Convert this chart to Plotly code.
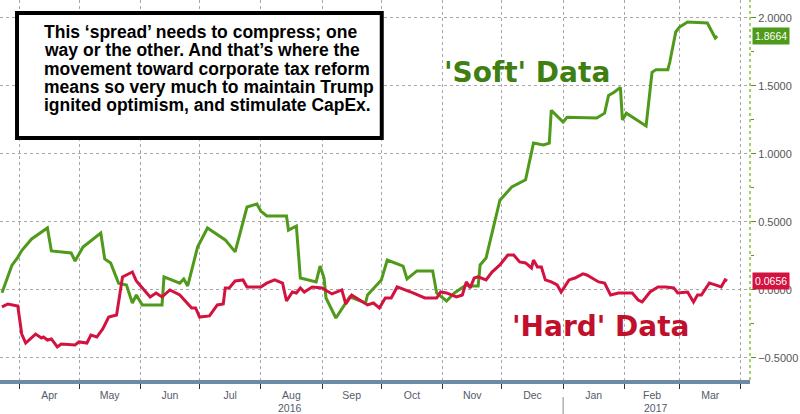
import plotly.graph_objects as go

# 'Soft' data (survey based)
soft_dates = ["2016-03-23", "2016-03-28", "2016-03-31", "2016-04-02", "2016-04-07", "2016-04-15",
              "2016-04-17", "2016-04-27", "2016-04-29", "2016-05-03", "2016-05-12", "2016-05-14",
              "2016-05-17", "2016-05-21", "2016-05-25", "2016-05-28", "2016-05-30", "2016-06-02",
              "2016-06-12", "2016-06-13", "2016-06-21", "2016-06-23", "2016-06-25", "2016-06-30",
              "2016-07-05", "2016-07-14", "2016-07-19", "2016-07-25", "2016-07-30", "2016-08-01",
              "2016-08-04", "2016-08-14", "2016-08-15", "2016-08-19", "2016-08-21", "2016-08-29",
              "2016-08-31", "2016-09-02", "2016-09-03", "2016-09-08", "2016-09-15", "2016-09-23",
              "2016-09-24", "2016-10-01", "2016-10-04", "2016-10-12", "2016-10-14", "2016-10-19",
              "2016-10-27", "2016-10-29", "2016-11-03", "2016-11-07", "2016-11-13", "2016-11-16",
              "2016-11-19", "2016-11-20", "2016-11-23", "2016-11-27", "2016-11-30", "2016-12-06",
              "2016-12-13", "2016-12-17", "2016-12-22", "2016-12-25", "2016-12-26", "2017-01-01",
              "2017-01-03", "2017-01-18", "2017-01-22", "2017-01-24", "2017-01-27", "2017-01-30",
              "2017-01-31", "2017-02-02", "2017-02-12", "2017-02-15", "2017-02-17", "2017-02-23",
              "2017-02-24", "2017-02-27", "2017-03-01", "2017-03-05", "2017-03-15", "2017-03-19",
              "2017-03-20"]
soft_values = [-0.02, 0.18, 0.24, 0.29, 0.375, 0.456,
               0.287, 0.272, 0.213, 0.316, 0.419, 0.228,
               0.199, 0.05, 0.037, -0.096, -0.037, -0.11,
               -0.11, 0.096, 0.05, 0.08, 0.03, 0.316,
               0.456, 0.368, 0.28, 0.61, 0.632, 0.58,
               0.544, 0.544, 0.44, 0.47, 0.088, 0.059,
               0.176, 0.088, -0.059, -0.206, -0.051, -0.096,
               -0.037, 0.074, 0.22, 0.176, 0.081, 0.14,
               0.14, -0.022, -0.081, -0.022, 0.037, 0.03,
               0.03, 0.184, 0.235, 0.478, 0.66, 0.757,
               0.81, 1.08, 1.066, 1.08, 1.32, 1.235,
               1.27, 1.265, 1.30, 1.43, 1.456, 1.49,
               1.25, 1.30, 1.206, 1.60, 1.62, 1.62,
               1.676, 1.897, 1.934, 1.97, 1.963, 1.853,
               1.8664]

# 'Hard' data (actual activity)
hard_dates = ["2016-03-23", "2016-03-26", "2016-03-31", "2016-04-02", "2016-04-04", "2016-04-09",
              "2016-04-12", "2016-04-13", "2016-04-15", "2016-04-17", "2016-04-20", "2016-04-22",
              "2016-04-29", "2016-05-01", "2016-05-05", "2016-05-07", "2016-05-10", "2016-05-13",
              "2016-05-16", "2016-05-20", "2016-05-23", "2016-05-28", "2016-05-30", "2016-06-01",
              "2016-06-06", "2016-06-09", "2016-06-12", "2016-06-16", "2016-06-21", "2016-06-27",
              "2016-06-29", "2016-07-01", "2016-07-06", "2016-07-10", "2016-07-13", "2016-07-14",
              "2016-07-16", "2016-07-19", "2016-07-23", "2016-07-25", "2016-08-01", "2016-08-04",
              "2016-08-08", "2016-08-12", "2016-08-14", "2016-08-17", "2016-08-19", "2016-08-21",
              "2016-08-23", "2016-08-27", "2016-09-01", "2016-09-06", "2016-09-11", "2016-09-13",
              "2016-09-16", "2016-09-24", "2016-09-27", "2016-09-30", "2016-10-03", "2016-10-06",
              "2016-10-09", "2016-10-17", "2016-10-23", "2016-10-29", "2016-10-31", "2016-11-03",
              "2016-11-08", "2016-11-11", "2016-11-13", "2016-11-15", "2016-11-17", "2016-11-19",
              "2016-11-23", "2016-11-26", "2016-11-30", "2016-12-04", "2016-12-07", "2016-12-10",
              "2016-12-13", "2016-12-16", "2016-12-17", "2016-12-19", "2016-12-21", "2016-12-23",
              "2016-12-26", "2016-12-29", "2016-12-31", "2017-01-04", "2017-01-07", "2017-01-11",
              "2017-01-13", "2017-01-19", "2017-01-22", "2017-01-25", "2017-01-29", "2017-02-01",
              "2017-02-05", "2017-02-08", "2017-02-10", "2017-02-14", "2017-02-18", "2017-02-22",
              "2017-02-26", "2017-02-28", "2017-03-05", "2017-03-08", "2017-03-10", "2017-03-12",
              "2017-03-16", "2017-03-19", "2017-03-22", "2017-03-24", "2017-03-25"]
hard_values = [-0.125, -0.103, -0.118, -0.324, -0.39, -0.324,
               -0.353, -0.346, -0.368, -0.36, -0.419, -0.397,
               -0.404, -0.382, -0.39, -0.331, -0.346, -0.287,
               -0.199, -0.184, 0.096, 0.132, 0.066, 0.03,
               -0.051, -0.022, -0.051, 0.0, -0.037, -0.132,
               -0.132, -0.199, -0.191, -0.11, -0.103, 0.015,
               0.015, 0.066, 0.074, 0.022, 0.022, 0.05,
               0.074, 0.05, -0.081, -0.015, -0.022, 0.015,
               -0.015, 0.022, 0.015, -0.029, 0.0, -0.103,
               -0.037, -0.11, -0.096, -0.132, -0.059, -0.059,
               0.022, -0.022, -0.059, -0.059, -0.015, -0.022,
               -0.051, -0.037, 0.059, 0.015, 0.088, 0.096,
               0.074, 0.132, 0.184, 0.257, 0.257, 0.206,
               0.199, 0.162, 0.22, 0.169, 0.169, 0.074,
               0.059, 0.037, -0.015, 0.074, 0.088, 0.118,
               0.11, 0.059, 0.051, -0.037, -0.022, -0.022,
               -0.022, -0.074, -0.088, -0.015, 0.022, 0.022,
               0.015, -0.022, -0.015, -0.088, -0.037, -0.037,
               0.051, 0.037, 0.022, 0.074, 0.0656]

GREEN = "#4f9a1a"
RED = "#d3123f"
AXIS_FONT = "Liberation Sans, Arial, sans-serif"

note_lines = ["This ‘spread’ needs to compress; one",
              "way or the other. And that’s where the",
              "movement toward corporate tax reform",
              "means so very much to maintain Trump",
              "ignited optimism, and stimulate CapEx."]

fig = go.Figure()

fig.add_trace(go.Scatter(x=soft_dates, y=soft_values, mode="lines", name="Soft",
                         line=dict(color=GREEN, width=3)))
fig.add_trace(go.Scatter(x=hard_dates, y=hard_values, mode="lines", name="Hard",
                         line=dict(color=RED, width=3)))

fig.update_layout(
    width=800, height=414,
    margin=dict(l=0, r=50, t=0, b=34),
    paper_bgcolor="white", plot_bgcolor="white",
    showlegend=False,
    xaxis=dict(
        type="date",
        range=["2016-03-22", "2017-04-05 14:00"],
        tick0="2016-04-01", dtick="M1", tickformat="%b",
        ticklabelmode="period", ticklabelstandoff=-3,
        showgrid=True, gridcolor="#a8a8a8", griddash="dot", gridwidth=1,
        ticks="outside", ticklen=5, tickcolor="#333",
        showline=True, linecolor="#6d8aa5", linewidth=4,
        tickfont=dict(family=AXIS_FONT, size=10.5, color="#555a6a"),
    ),
    yaxis=dict(
        side="right",
        range=[-0.662, 2.132],
        tick0=0, dtick=0.5, tickformat=".4f",
        showgrid=True, gridcolor="#a8a8a8", griddash="dot", gridwidth=1,
        zeroline=False,
        ticks="outside", ticklen=5, tickcolor=GREEN,
        minor=dict(dtick=0.25, ticks="outside", ticklen=3, tickcolor=GREEN, showgrid=False),
        tickfont=dict(family=AXIS_FONT, size=11, color="#555"),
    ),
)

# right axis line, dotted green
fig.add_shape(type="line", xref="paper", yref="paper", x0=1, x1=1, y0=0, y1=1,
              line=dict(color="#8fbf3a", width=1.5, dash="dot"))

# year separator under the axis
fig.add_shape(type="line", xref="x", yref="paper", x0="2017-01-01", x1="2017-01-01",
              y0=-0.045, y1=-0.09, line=dict(color="#888", width=1))

# comment box, one annotation per line to keep the tight line spacing
fig.add_shape(type="rect", xref="paper", yref="paper", x0=0.0227, x1=0.509, y0=0.637, y1=0.966,
              line=dict(color="black", width=4), fillcolor="white")
for i, line in enumerate(note_lines):
    fig.add_annotation(xref="paper", yref="paper", x=0.056, y=1 - (32 + 18.35 * i) / 380,
                       xanchor="left", yanchor="middle", text=line, showarrow=False,
                       font=dict(family="Liberation Sans, Arial", size=17.5, color="black",
                                 weight="bold"))

# series labels
fig.add_annotation(xref="paper", yref="paper", x=0.703, y=0.81, xanchor="center", yanchor="middle",
                   text="'Soft' Data", showarrow=False,
                   font=dict(family="DejaVu Sans", size=28, color="#3f7f12", weight="bold"))
fig.add_annotation(xref="paper", yref="paper", x=0.801, y=0.142, xanchor="center", yanchor="middle",
                   text="'Hard' Data", showarrow=False,
                   font=dict(family="DejaVu Sans", size=28, color="#c0102e", weight="bold"))

# last value tags
fig.add_annotation(xref="paper", yref="y", x=1, y=soft_values[-1], xanchor="left", yanchor="middle",
                   xshift=2, text=f"{soft_values[-1]:.4f}", showarrow=False, bgcolor=GREEN, borderpad=2,
                   font=dict(family=AXIS_FONT, size=10.5, color="white"))
fig.add_annotation(xref="paper", yref="y", x=1, y=hard_values[-1], xanchor="left", yanchor="middle",
                   xshift=2, text=f"{hard_values[-1]:.4f}", showarrow=False, bgcolor=RED, borderpad=2,
                   font=dict(family=AXIS_FONT, size=10.5, color="white"))

# year labels
fig.add_annotation(xref="x", yref="paper", x="2016-08-16", y=-0.074, yanchor="middle", text="2016",
                   showarrow=False, font=dict(family=AXIS_FONT, size=10.5, color="#555a6a"))
fig.add_annotation(xref="x", yref="paper", x="2017-02-17", y=-0.074, yanchor="middle", text="2017",
                   showarrow=False, font=dict(family=AXIS_FONT, size=10.5, color="#555a6a"))

fig.write_html("out.html", config={"displayModeBar": False},
               post_script="document.body.style.margin='0';")
